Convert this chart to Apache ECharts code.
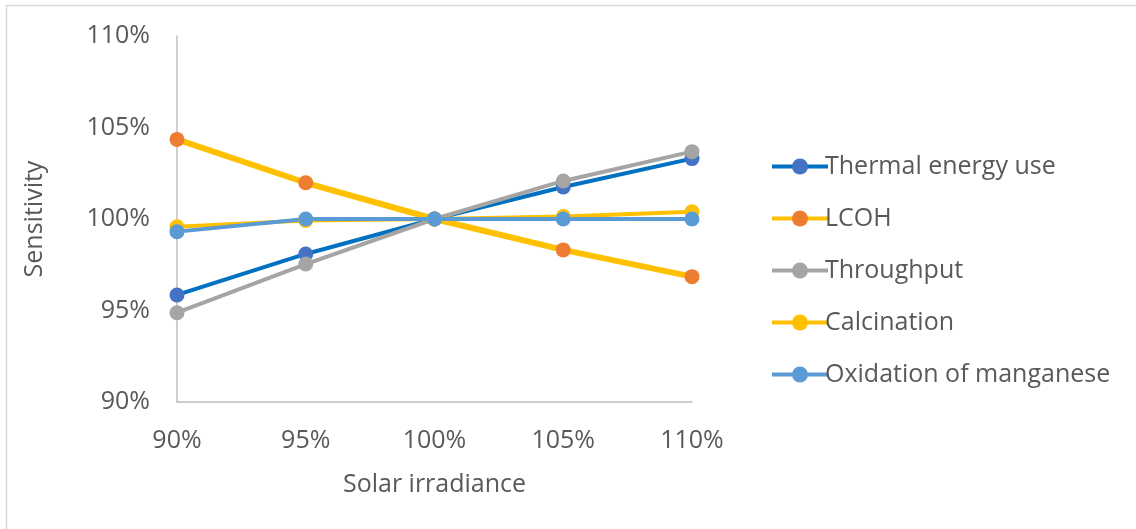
<!DOCTYPE html>
<html>
<head>
<meta charset="utf-8">
<script src="https://cdn.jsdelivr.net/npm/echarts@6/dist/echarts.min.js"></script>
<style>
  html, body { margin: 0; padding: 0; background: #fff; }
  #chart { width: 1136px; height: 529px; }
</style>
</head>
<body>
<div id="chart"></div>
<script>
// Solar irradiance levels (x axis) and sensitivity of each output (%)
const irradiance = ['90%', '95%', '100%', '105%', '110%'];
const thermalEnergyUse = [95.85, 98.09, 100, 101.75, 103.3];
const lcoh = [104.35, 101.98, 100, 98.31, 96.85];
const throughput = [94.88, 97.54, 100, 102.08, 103.68];
const calcination = [99.58, 99.92, 100, 100.14, 100.4];
const oxidationOfManganese = [99.31, 100, 100, 100, 100];

const FONT = '"Open Sans", "Noto Sans", sans-serif';
const TEXT = '#595959';
const FS = 25;

function lineSeries(name, data, lineColor, markerColor, width) {
  return {
    name: name,
    type: 'line',
    data: data,
    symbol: 'circle',
    symbolSize: 15,
    lineStyle: { color: lineColor, width: width },
    itemStyle: { color: markerColor },
    emphasis: { disabled: true },
    animation: false
  };
}

const chart = echarts.init(document.getElementById('chart'));
chart.setOption({
  backgroundColor: '#fff',
  animation: false,
  graphic: [{
    type: 'rect',
    shape: { x: 6.5, y: 5.5, width: 1200, height: 600 },
    style: { fill: 'none', stroke: '#D9D9D9', lineWidth: 1.5 },
    silent: true
  }],
  grid: { left: 177, top: 36, right: 444, bottom: 127 },
  legend: {
    orient: 'vertical',
    left: 765,
    top: 148,
    itemWidth: 56,
    itemHeight: 20,
    itemGap: 25,
    lineStyle: { width: 4 },
    textStyle: { fontFamily: FONT, fontSize: FS, lineHeight: 27, color: TEXT, padding: [0, 0, 0, -8] },
    data: ['Thermal energy use', 'LCOH', 'Throughput', 'Calcination', 'Oxidation of manganese']
  },
  xAxis: {
    type: 'category',
    data: irradiance,
    boundaryGap: false,
    name: 'Solar irradiance',
    nameLocation: 'middle',
    nameGap: 70,
    nameTextStyle: { fontFamily: FONT, fontSize: FS, color: TEXT },
    axisLine: { lineStyle: { color: '#BFBFBF', width: 1.5 } },
    axisTick: { show: false },
    axisLabel: { fontFamily: FONT, fontSize: FS, color: TEXT, margin: 26 },
    splitLine: { show: false }
  },
  yAxis: {
    type: 'value',
    min: 90,
    max: 110,
    interval: 5,
    name: 'Sensitivity',
    nameLocation: 'middle',
    nameGap: 130,
    nameRotate: 90,
    nameTextStyle: { fontFamily: FONT, fontSize: FS, color: TEXT },
    axisLine: { show: true, lineStyle: { color: '#BFBFBF', width: 1.5 } },
    axisTick: { show: false },
    axisLabel: { fontFamily: FONT, fontSize: FS, color: TEXT, margin: 27, formatter: '{value}%' },
    splitLine: { show: false }
  },
  series: [
    lineSeries('Thermal energy use', thermalEnergyUse, '#0070C0', '#4472C4', 4),
    lineSeries('LCOH', lcoh, '#FFC000', '#ED7D31', 6),
    lineSeries('Throughput', throughput, '#A5A5A5', '#A5A5A5', 4),
    lineSeries('Calcination', calcination, '#FFC000', '#FFC000', 4),
    lineSeries('Oxidation of manganese', oxidationOfManganese, '#5B9BD5', '#5B9BD5', 4)
  ]
});
</script>
</body>
</html>
